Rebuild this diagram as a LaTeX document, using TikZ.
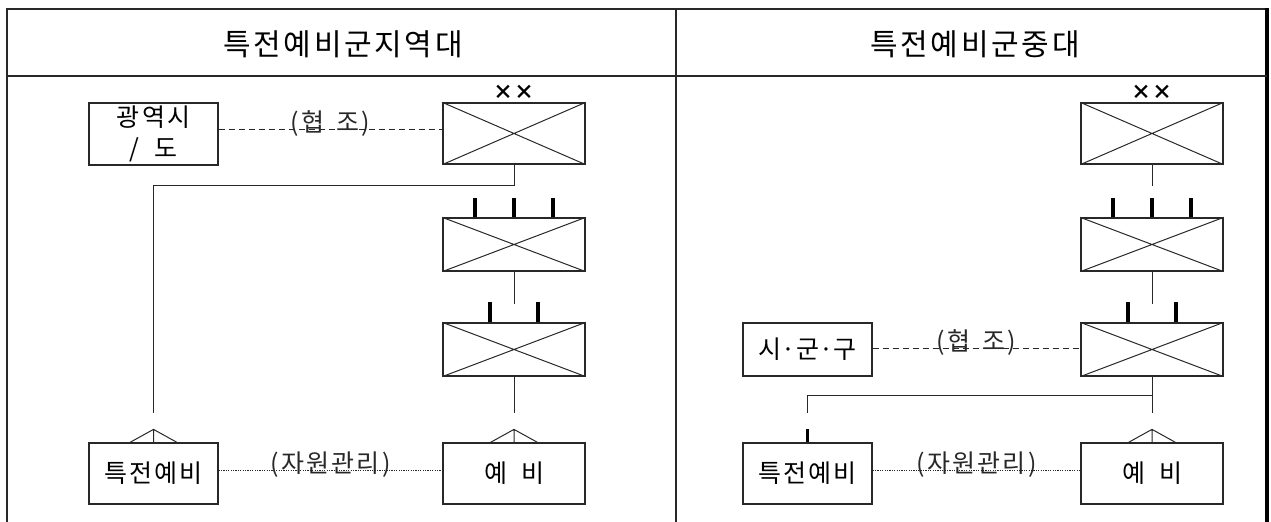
\documentclass[tikz,border=0pt]{standalone}
\usepackage{fontspec}
\setmainfont[LetterSpace=9]{Noto Sans CJK KR}
\usetikzlibrary{positioning,calc}
\definecolor{lineg}{RGB}{40,40,40}

\tikzset{
  unitbox/.style={draw=lineg, line width=0.6pt, minimum width=71pt, minimum height=26.5pt, inner sep=0pt},
  textbox/.style={draw=lineg, line width=0.6pt, minimum width=64.5pt, minimum height=30.5pt, inner sep=0pt, font=\fontsize{12.5}{15}\selectfont, align=center},
  link/.style={lineg, line width=0.5pt},
  tick/.style={black, line width=1.6pt},
  coop/.style={lineg, line width=0.5pt, dash pattern=on 3pt off 2pt},
  res/.style={lineg, line width=0.5pt, dash pattern=on 0.6pt off 0.6pt},
  lbl/.style={font=\fontsize{12.5}{15}\selectfont, inner sep=0pt, anchor=south},
  title/.style={font=\fontsize{15}{17}\selectfont}
}

\newcommand{\crossbox}[1]{\draw[link] (#1.north west) -- (#1.south east) (#1.south west) -- (#1.north east);}

\begin{document}
\begin{tikzpicture}[x=0.5pt, y=-0.5pt]
  \useasboundingbox (0,0) rectangle (1271,522);

  %--- frame ---
  \draw[lineg, line width=0.8pt] (7,522) -- (7,9) -- (1267,9);
  \draw[black, line width=2pt] (1267,8.5) -- (1267,522);
  \draw[lineg, line width=0.6pt] (676,9) -- (676,522);
  \draw[lineg, line width=0.6pt] (7,76) -- (1267,76);
  \node[title] (titleL) at (343,44) {특전예비군지역대};
  \node[title] (titleR) at (975,44) {특전예비군중대};

  %--- left: regional unit ---
  \node[textbox, minimum height=31pt, font=\fontsize{12.5}{15.5}\selectfont] (metro) at (153.5,134) {광역시\\/\hspace{8pt}도};
  \node[unitbox, minimum height=30.5pt] (divL) at (514,133.5) {};
  \node[unitbox] (brigL) at (514,244.5) {};
  \node[unitbox] (bnL) at (514,349.5) {};
  \node[textbox] (spL) at (153.5,473.5) {특전예비};
  \node[textbox, minimum width=71pt] (resL) at (514,473.5) {예\hspace{7pt}비};
  \node[font=\bfseries\fontsize{10}{12}\selectfont, inner sep=0pt] (xxL) at (514,92) {××};
  \crossbox{divL}
  \crossbox{brigL}
  \crossbox{bnL}

  \coordinate (spLtop) at (153.5,413);
  \coordinate (resLtop) at (514,413);
  \draw[link] (divL.south) -- ++(0,21) -| (spLtop);
  \draw[link] (brigL.south) -- ++(0,32);
  \draw[link] (bnL.south) -- (resLtop);
  \foreach \dx in {-39,0,39} \draw[tick] ([xshift=\dx*0.5pt]brigL.north) -- ++(0,-19);
  \foreach \dx in {-24,24} \draw[tick] ([xshift=\dx*0.5pt]bnL.north) -- ++(0,-20);
  \foreach \n in {spL,resL}
    \draw[link] ([xshift=-23.5*0.5pt]\n.north) -- ([yshift=13*0.5pt]\n.north) -- ([xshift=23.5*0.5pt]\n.north)
      ([yshift=13*0.5pt]\n.north) -- (\n.north);

  \draw[coop] ([yshift=2pt]metro.east) -- ([yshift=1.75pt]divL.west) node[lbl, midway, yshift=-3.5pt] {(협\hspace{6pt}조)};
  \draw[res] ([yshift=1.5pt]spL.east) -- ([yshift=1.5pt]resL.west) node[lbl, midway, yshift=-3.5pt] {(자원관리)};

  %--- right: company ---
  \node[unitbox, minimum height=30.5pt] (divR) at (1152,133.5) {};
  \node[unitbox] (brigR) at (1152,244.5) {};
  \node[unitbox] (bnR) at (1152,349.5) {};
  \node[textbox, minimum height=26.5pt] (sgg) at (807.5,349.5) {\addfontfeature{LetterSpace=0}시·군·구};
  \node[textbox] (spR) at (807.5,473.5) {특전예비};
  \node[textbox, minimum width=71pt] (resR) at (1152,473.5) {예\hspace{7pt}비};
  \node[font=\bfseries\fontsize{10}{12}\selectfont, inner sep=0pt] (xxR) at (1152,92) {××};
  \crossbox{divR}
  \crossbox{brigR}
  \crossbox{bnR}

  \coordinate (spRtop) at (807.5,413);
  \coordinate (resRtop) at (1152,413);
  \coordinate (branchR) at (1152,396);
  \draw[link] (divR.south) -- ++(0,21);
  \draw[link] (brigR.south) -- ++(0,32);
  \draw[link] (bnR.south) -- (resRtop);
  \draw[link] (branchR) -| (spRtop);
  \foreach \dx in {-39,0,39} \draw[tick] ([xshift=\dx*0.5pt]brigR.north) -- ++(0,-19);
  \foreach \dx in {-24,24} \draw[tick] ([xshift=\dx*0.5pt]bnR.north) -- ++(0,-20);
  \draw[tick] (spR.north) -- ++(0,-13);
  \draw[link] ([xshift=-23.5*0.5pt]resR.north) -- ([yshift=13*0.5pt]resR.north) -- ([xshift=23.5*0.5pt]resR.north)
    ([yshift=13*0.5pt]resR.north) -- (resR.north);

  \draw[coop] ([yshift=0.5pt]sgg.east) -- ([yshift=0.5pt]bnR.west) node[lbl, midway, yshift=-3.5pt] {(협\hspace{6pt}조)};
  \draw[res] ([yshift=1.5pt]spR.east) -- ([yshift=1.5pt]resR.west) node[lbl, midway, yshift=-3.5pt] {(자원관리)};
\end{tikzpicture}
\end{document}
